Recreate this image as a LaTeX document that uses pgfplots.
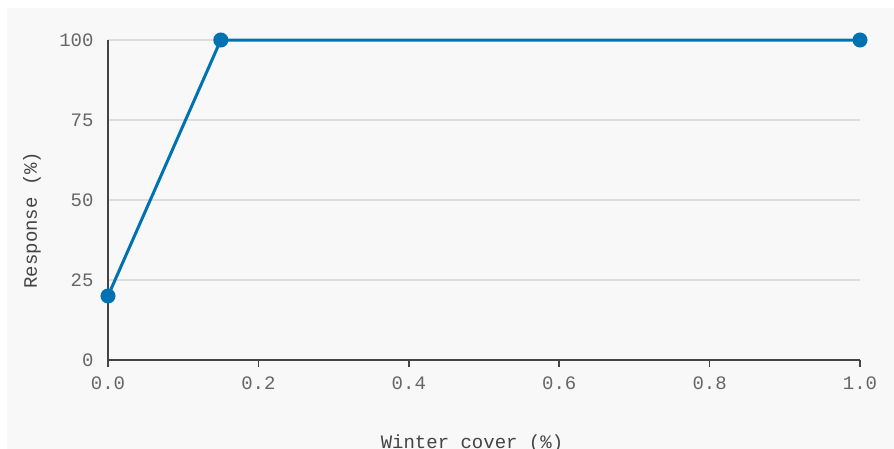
\documentclass[border=0pt]{standalone}
\usepackage{pgfplots}
\pgfplotsset{compat=1.18}
\usepackage{fontspec}
\setmainfont{Liberation Mono}
\definecolor{panelbg}{HTML}{F8F8F8}
\definecolor{lineblue}{HTML}{0072B2}
\definecolor{axisgray}{HTML}{444444}
\definecolor{textgray}{HTML}{666666}
\definecolor{gridgray}{HTML}{DDDDDD}

\begin{document}
\begin{tikzpicture}
% panel background (image px = pt, origin at the axis corner)
\fill[white] (-108pt,-88pt) rectangle (786pt,360pt);
\fill[panelbg] (-101pt,-100pt) rectangle (800pt,352pt);

\begin{axis}[
    at={(0pt,0pt)}, anchor=south west,
    scale only axis,
    width=752pt, height=320pt,
    xmin=0, xmax=1, ymin=0, ymax=100,
    clip=false,
    axis lines*=left,
    axis line style={axisgray, line width=1.5pt},
    tick align=outside,
    major tick length=7pt,
    x tick style={axisgray, line width=1.5pt},
    ytick style={draw=none},
    xtick={0,0.2,0.4,0.6,0.8,1.0},
    ytick={0,25,50,75,100},
    ymajorgrids,
    major grid style={gridgray, line width=1.2pt},
    /pgf/number format/assume math mode=true,
    xticklabel style={/pgf/number format/fixed, /pgf/number format/fixed zerofill,
        /pgf/number format/precision=1, yshift=-6pt},
    yticklabel style={xshift=-4pt},
    tick label style={font=\fontsize{19}{22}\selectfont, text=textgray},
    label style={font=\fontsize{19}{22}\selectfont, text=axisgray},
    xlabel={Winter cover (\%)},
    ylabel={Response (\%)},
    xlabel style={at={(axis description cs:0.484,-0.262)}, anchor=center},
    ylabel style={at={(axis description cs:-0.101,0.4375)}, anchor=center},
]
\addplot[lineblue, line width=3pt, mark=*, mark size=6pt] coordinates {
    (0, 20)
    (0.15, 100)
    (1, 100)
};
\end{axis}
\pgfresetboundingbox
\path (-108pt,-88pt) rectangle (786pt,360pt);
\end{tikzpicture}
\end{document}
